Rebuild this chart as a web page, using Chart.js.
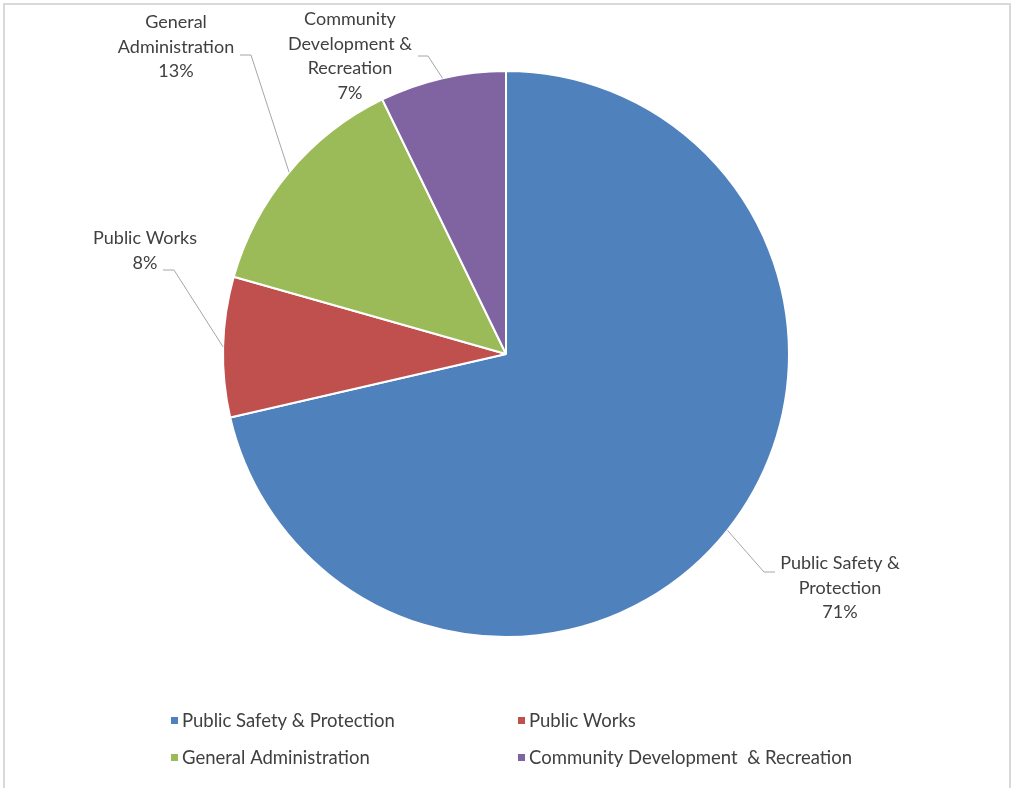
<!DOCTYPE html>
<html>
<head>
<meta charset="utf-8">
<script src="https://cdn.jsdelivr.net/npm/chart.js@4.4.1/dist/chart.umd.min.js"></script>
<style>
  body { margin: 0; background: #fff; }
  #moldura {
    position: absolute; left: 3px; top: 3px; width: 1008px; height: 800px;
    border: 2px solid #d9d9d9; box-sizing: border-box;
  }
  #grafico { position: absolute; left: 0; top: 0; }
</style>
</head>
<body>
<div id="moldura"></div>
<canvas id="grafico" width="1012" height="788"></canvas>
<script>
// Dados do gráfico
const categorias = ['Public Safety & Protection', 'Public Works', 'General Administration', 'Community Development  & Recreation'];
const rotulosFatia = [['Public Safety &', 'Protection'], ['Public Works'], ['General', 'Administration'], ['Community', 'Development &', 'Recreation']];
const valores = [71.4, 8.0, 13.4, 7.2];
const cores = ['#4F81BD', '#C0504D', '#9BBB59', '#8064A2'];

// Onde fica cada rótulo (centro do texto, meio da 1a linha) e o cotovelo da linha guia
const posRotulos = [
    { x: 840, y: 563, cotovelo: [764, 572], fim: [775, 572] },
    { x: 145, y: 238, cotovelo: [174, 270], fim: [163, 270] },
    { x: 176, y: 22, cotovelo: [251, 55], fim: [240, 55] },
    { x: 350, y: 19, cotovelo: [428, 56], fim: [418, 56] }
];

const fonteRotulo = '18px Lato, "Liberation Sans", sans-serif';
const fonteLegenda = '18.5px Lato, "Liberation Sans", sans-serif';

const pluginRotulos = {
    id: 'rotulos',
    afterDraw(chart) {
        const ctx = chart.ctx;
        const meta = chart.getDatasetMeta(0);
        const total = valores.reduce((a, b) => a + b, 0);
        ctx.save();
        meta.data.forEach((arco, i) => {
            const p = arco.getProps(['x', 'y', 'startAngle', 'endAngle', 'outerRadius'], true);
            const meio = (p.startAngle + p.endAngle) / 2;
            const ax = p.x + Math.cos(meio) * p.outerRadius;
            const ay = p.y + Math.sin(meio) * p.outerRadius;
            const pos = posRotulos[i];

            // linha guia
            ctx.strokeStyle = '#a6a6a6';
            ctx.lineWidth = 1;
            ctx.beginPath();
            ctx.moveTo(ax, ay);
            ctx.lineTo(pos.cotovelo[0], pos.cotovelo[1]);
            ctx.lineTo(pos.fim[0], pos.fim[1]);
            ctx.stroke();

            // texto
            const linhas = rotulosFatia[i].concat([Math.round(valores[i] / total * 100) + '%']);
            ctx.fillStyle = '#404040';
            ctx.font = fonteRotulo;
            ctx.textAlign = 'center';
            ctx.textBaseline = 'middle';
            linhas.forEach((l, j) => ctx.fillText(l, pos.x, pos.y + j * 24.7));
        });

        // legenda em duas colunas
        const colX = [171, 518];
        const linY = [720, 757];
        ctx.font = fonteLegenda;
        ctx.textAlign = 'left';
        categorias.forEach((cat, i) => {
            const x = colX[i % 2];
            const y = linY[Math.floor(i / 2)];
            ctx.fillStyle = cores[i];
            ctx.fillRect(x, y - 3, 7, 7);
            ctx.fillStyle = '#404040';
            ctx.fillText(cat, x + 11, y + 1);
        });
        ctx.restore();
    }
};

const ctx = document.getElementById('grafico').getContext('2d');
const grafico = new Chart(ctx, {
    type: 'pie',
    data: {
        labels: categorias,
        datasets: [{
            data: valores,
            backgroundColor: cores,
            borderColor: '#ffffff',
            borderWidth: 2
        }]
    },
    options: {
        responsive: false,
        animation: false,
        layout: {
            padding: { top: 70, bottom: 150, left: 0, right: 0 }
        },
        plugins: {
            legend: { display: false },
            tooltip: { enabled: false }
        }
    },
    plugins: [pluginRotulos]
});
</script>
</body>
</html>
